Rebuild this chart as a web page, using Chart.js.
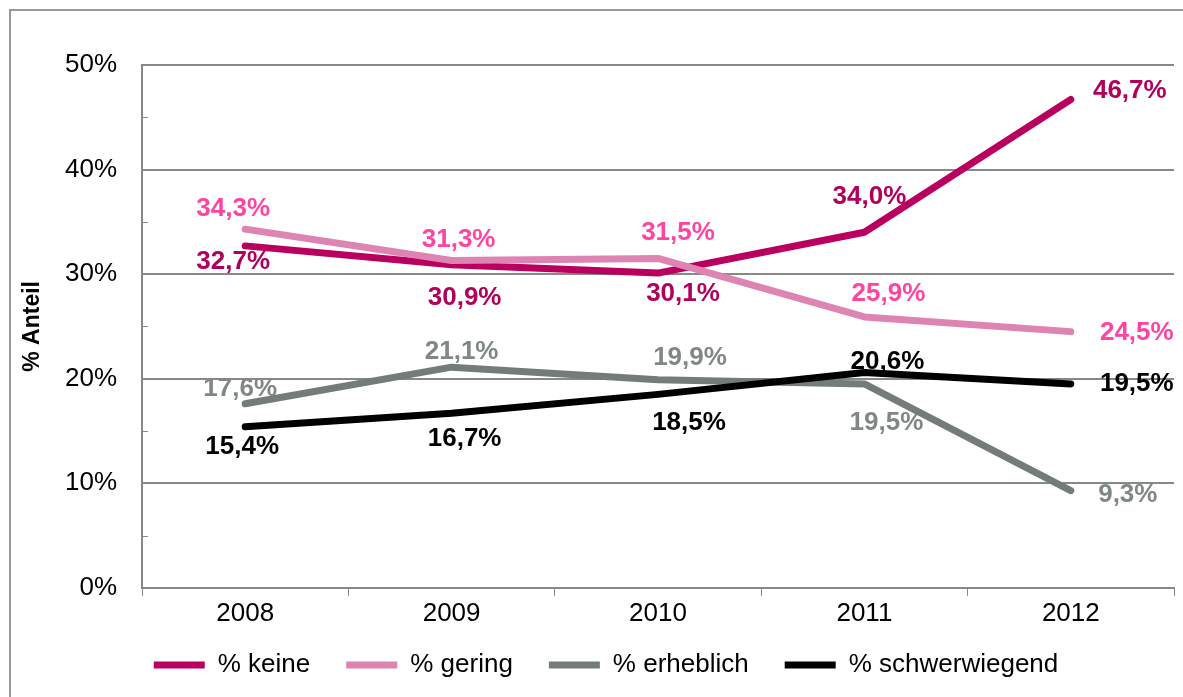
<!DOCTYPE html>
<html>
<head>
<meta charset="utf-8">
<script src="https://cdn.jsdelivr.net/npm/chart.js@4/dist/chart.umd.min.js"></script>
<style>
  html, body { margin: 0; padding: 0; background: #fff; }
  #wrap { width: 1183px; height: 697px; }
</style>
</head>
<body>
<div id="wrap"><canvas id="chartAnteil"></canvas></div>
<script>
const jahre = ["2008", "2009", "2010", "2011", "2012"];
const keine = [32.7, 30.9, 30.1, 34.0, 46.7];
const gering = [34.3, 31.3, 31.5, 25.9, 24.5];
const erheblich = [17.6, 21.1, 19.9, 19.5, 9.3];
const schwerwiegend = [15.4, 16.7, 18.5, 20.6, 19.5];
const yTicks = [0, 10, 20, 30, 40, 50];

// where each value label sits relative to its point (dx, dy in px)
const labelOffsets = [
  [[-12, 16], [13, 33], [25, 21], [5, -35], [59, -9]],
  [[-12, -20], [7, -21], [20, -26], [24, -23], [66, 1]],
  [[-5, -15], [10, -15], [32, -22], [22, 39], [57, 4]],
  [[-3, 20], [13, 26], [31, 28], [23, -11], [66, 0]],
];

const fontFam = "'Liberation Sans', Arial, sans-serif";

function serie(label, data, color, labelColor, order) {
  return {
    label: label,
    data: data,
    borderColor: color,
    backgroundColor: color,
    borderWidth: 7,
    borderCapStyle: "round",
    borderJoinStyle: "round",
    pointRadius: 0,
    pointHoverRadius: 0,
    tension: 0,
    labelColor: labelColor,
    order: order,
  };
}

const rahmen = {
  id: "rahmen",
  beforeDraw(chart) {
    const ctx = chart.ctx;
    ctx.save();
    ctx.strokeStyle = "#999";
    ctx.lineWidth = 2;
    ctx.strokeRect(10, 10, chart.width + 20, chart.height + 20);
    ctx.restore();
  },
  // legend sits a bit right of centre and closer to the axis in the original
  afterLayout(chart) {
    const lg = chart.legend;
    lg.left += 14;
    lg.right += 14;
    lg.top -= 15;
    lg.bottom -= 15;
  },
};

// short tick marks on the inside of the y axis every 5%
const kleineTicks = {
  id: "kleineTicks",
  beforeDatasetsDraw(chart) {
    const y = chart.scales.y;
    const ctx = chart.ctx;
    ctx.save();
    ctx.strokeStyle = "#888";
    ctx.lineWidth = 1;
    for (let v = 0; v <= 50; v += 5) {
      const py = Math.round(y.getPixelForValue(v)) + 0.5;
      ctx.beginPath();
      ctx.moveTo(y.right, py);
      ctx.lineTo(y.right + 6, py);
      ctx.stroke();
    }
    ctx.restore();
  },
};

const wertLabels = {
  id: "wertLabels",
  beforeDatasetsDraw(chart) {
    const ctx = chart.ctx;
    ctx.save();
    ctx.font = "bold 26px " + fontFam;
    ctx.textAlign = "center";
    ctx.textBaseline = "middle";
    chart.data.datasets.forEach((ds, i) => {
      const meta = chart.getDatasetMeta(i);
      ctx.fillStyle = ds.labelColor;
      meta.data.forEach((pt, j) => {
        const off = labelOffsets[i][j];
        const txt = ds.data[j].toFixed(1).replace(".", ",") + "%";
        ctx.fillText(txt, pt.x + off[0], pt.y + off[1]);
      });
    });
    ctx.restore();
  },
};

document.addEventListener("DOMContentLoaded", () => {
  const ctx = document.getElementById("chartAnteil").getContext("2d");
  new Chart(ctx, {
    type: "line",
    data: {
      labels: jahre,
      datasets: [
        serie("% keine", keine, "#BA005E", "#B0005C", 4),
        serie("% gering", gering, "#DE84B2", "#FF44A2", 3),
        serie("% erheblich", erheblich, "#747C79", "#808884", 2),
        serie("% schwerwiegend", schwerwiegend, "#000000", "#000000", 1),
      ],
    },
    options: {
      responsive: true,
      maintainAspectRatio: false,
      animation: false,
      layout: {
        padding: { left: 10, right: 9, top: 65, bottom: -6 },
      },
      plugins: {
        tooltip: { enabled: false },
        legend: {
          display: true,
          position: "bottom",
          labels: {
            usePointStyle: true,
            pointStyle: "line",
            pointStyleWidth: 51,
            padding: 36,
            color: "#000",
            font: { family: fontFam, size: 26 },
            sort: (a, b) => a.datasetIndex - b.datasetIndex,
          },
        },
      },
      scales: {
        x: {
          offset: true,
          grid: {
            offset: true,
            drawOnChartArea: false,
            drawTicks: true,
            tickLength: 8,
            color: "#888",
          },
          border: { color: "#888", width: 2 },
          ticks: {
            color: "#000",
            padding: 2,
            font: { family: fontFam, size: 26 },
            maxRotation: 0,
          },
        },
        y: {
          min: 0,
          max: 50,
          afterFit(scale) {
            scale.width = 132;
          },
          afterBuildTicks(scale) {
            scale.ticks = yTicks.map((v) => ({ value: v }));
          },
          grid: {
            drawTicks: false,
            color: "#888",
            lineWidth: 2,
          },
          border: { color: "#888", width: 2 },
          ticks: {
            color: "#000",
            padding: 25,
            font: { family: fontFam, size: 26 },
            callback: (v) => v + "%",
          },
          title: {
            display: true,
            text: "% Anteil",
            color: "#000",
            font: { family: fontFam, size: 23, weight: "bold" },
            padding: { top: 9, bottom: 0 },
          },
        },
      },
    },
    plugins: [rahmen, kleineTicks, wertLabels],
  });
});
</script>
</body>
</html>
